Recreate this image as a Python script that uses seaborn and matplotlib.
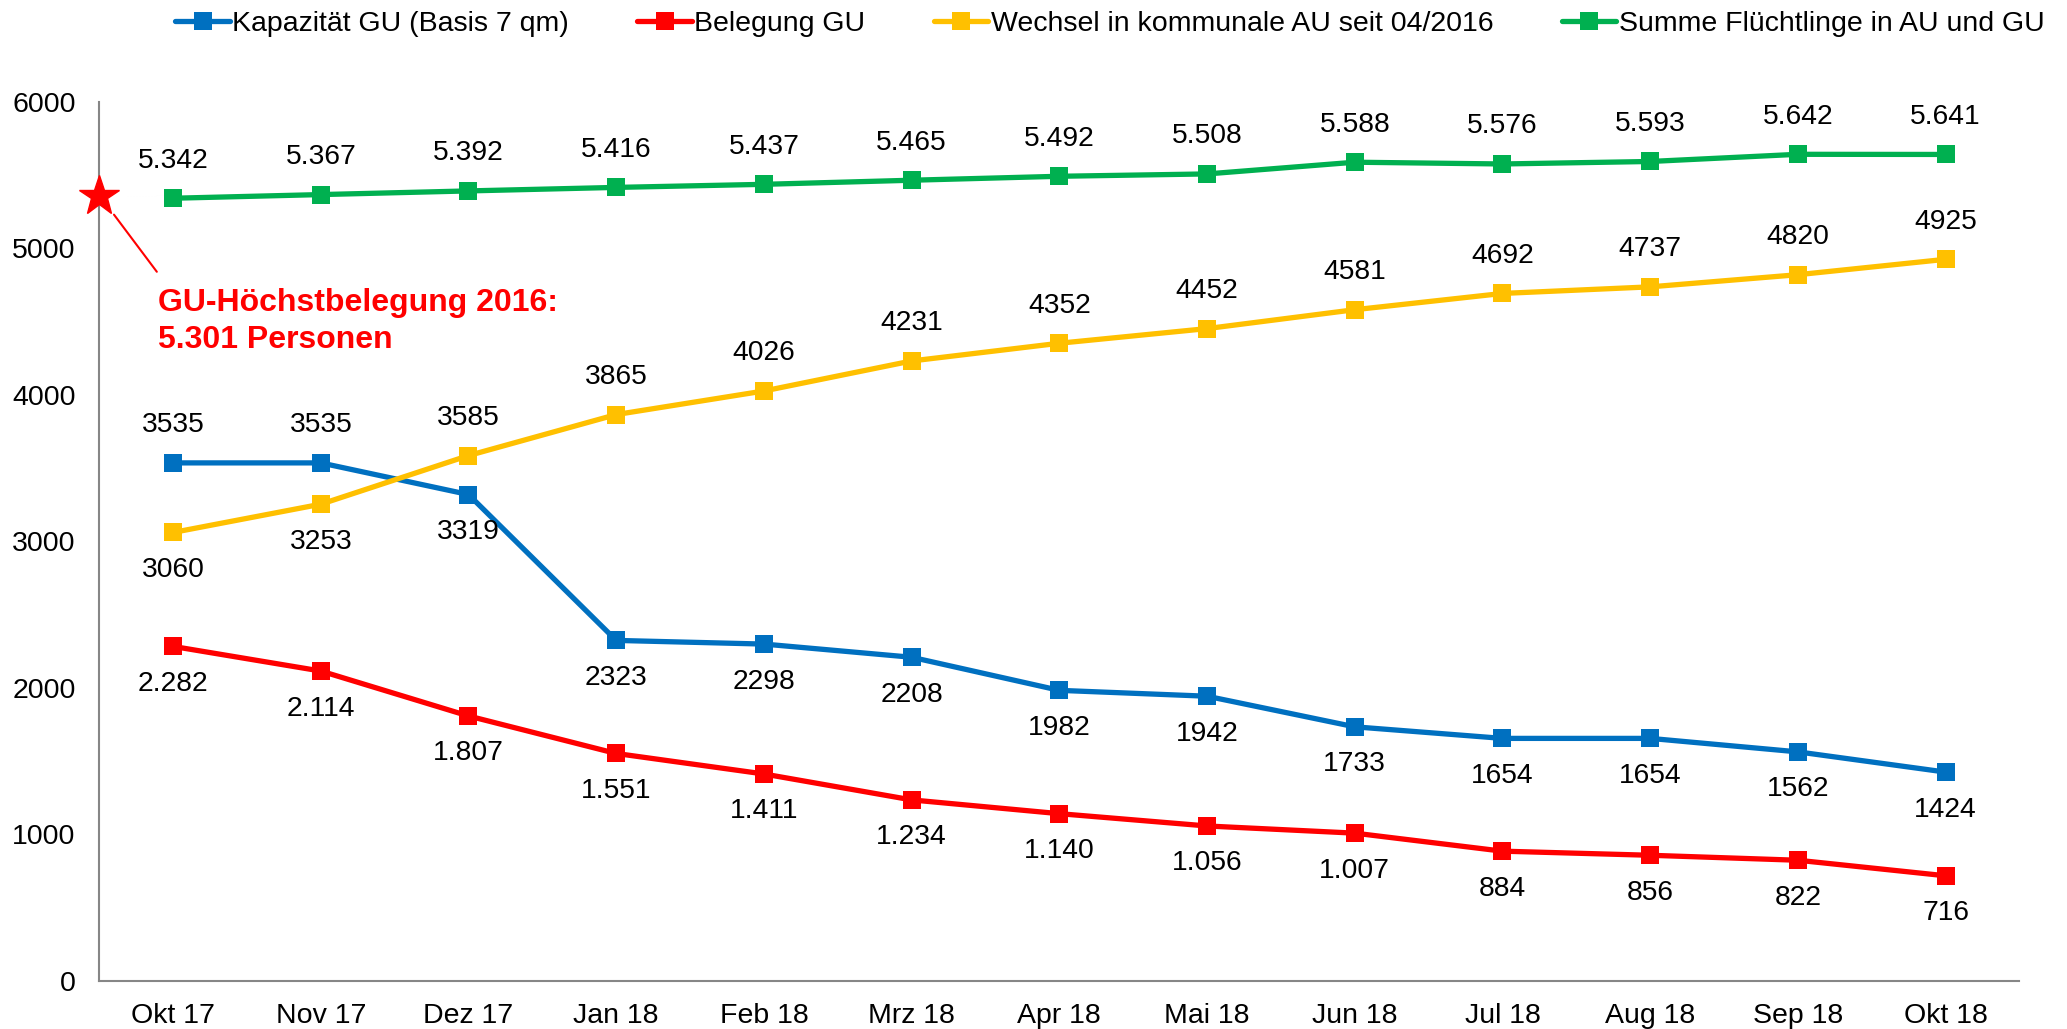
"""Flüchtlinge in GU / AU - line chart recreated with seaborn"""
import matplotlib
matplotlib.use('Agg')
import matplotlib.pyplot as plt
import pandas as pd
import seaborn as sns

# ~~~~~~~  Data  ~~~~~~~
months = ['Okt 17', 'Nov 17', 'Dez 17', 'Jan 18', 'Feb 18', 'Mrz 18', 'Apr 18',
          'Mai 18', 'Jun 18', 'Jul 18', 'Aug 18', 'Sep 18', 'Okt 18']
kapazitaet = [3535, 3535, 3319, 2323, 2298, 2208, 1982, 1942, 1733, 1654, 1654, 1562, 1424]
belegung = [2282, 2114, 1807, 1551, 1411, 1234, 1140, 1056, 1007, 884, 856, 822, 716]
wechsel = [3060, 3253, 3585, 3865, 4026, 4231, 4352, 4452, 4581, 4692, 4737, 4820, 4925]
summe = [5342, 5367, 5392, 5416, 5437, 5465, 5492, 5508, 5588, 5576, 5593, 5642, 5641]
series_names = ['Kapazität GU (Basis 7 qm)', 'Belegung GU',
                'Wechsel in kommunale AU seit 04/2016', 'Summe Flüchtlinge in AU und GU']
colors = ['#0070C0', '#FF0000', '#FFC000', '#00B050']
hoechst_value = 5360   # star on the y-axis (GU-Höchstbelegung 2016)

# label placement per point: +1 above, -1 below
kap_pos = [1, 1] + [-1] * 11
bel_pos = [-1] * 13
wec_pos = [-1, -1] + [1] * 11
sum_pos = [1] * 13


def fmt_dot(v):
    return f'{v:,}'.replace(',', '.')


def fmt_plain(v):
    return f'{v}'


# ~~~~~~~  Build table  ~~~~~~~
frames = []
for name, vals in zip(series_names, [kapazitaet, belegung, wechsel, summe]):
    frames.append(pd.DataFrame({'Monat': range(len(months)), 'Wert': vals, 'Serie': name}))
df = pd.concat(frames, ignore_index=True)

# ~~~~~~~  Plot  ~~~~~~~
sns.set_style('white')
plt.rcParams['font.family'] = ['Liberation Sans', 'DejaVu Sans']
plt.rcParams['text.color'] = 'black'

fig = plt.figure(figsize=(20.67, 10.29), dpi=100)
ax = fig.add_axes([0.048, 0.047, 0.929, 0.854])

sns.lineplot(data=df, x='Monat', y='Wert', hue='Serie', hue_order=series_names,
             palette=colors, style='Serie', markers=['s'] * 4, dashes=False,
             markersize=13, markeredgewidth=0, linewidth=3.8, ax=ax, legend=False)

# data labels
label_sets = [(kapazitaet, kap_pos, fmt_plain), (belegung, bel_pos, fmt_dot),
              (wechsel, wec_pos, fmt_plain), (summe, sum_pos, fmt_dot)]
for vals, pos, fmt in label_sets:
    for i, (v, p) in enumerate(zip(vals, pos)):
        ax.annotate(fmt(v), (i, v), xytext=(0, 27 * p), textcoords='offset points',
                    ha='center', va='center', fontsize=20.3, color='black')

# star + callout for the 2016 peak occupancy
ax.plot([-0.5], [hoechst_value], marker='*', markersize=30, color='#FF0000',
        clip_on=False, zorder=5)
ax.plot([-0.4, -0.11], [5230, 4840], color='#FF0000', linewidth=1.5)
ax.text(-0.1, 4730, 'GU-Höchstbelegung 2016:\n5.301 Personen', color='#FF0000',
        fontsize=23, fontweight='bold', ha='left', va='top', linespacing=1.3)

# axes styling (Excel look)
ax.set_xlim(-0.5, len(months) - 0.5)
ax.set_ylim(0, 6000)
ax.set_yticks(range(0, 6001, 1000))
ax.set_xticks(range(len(months)))
ax.set_xticklabels(months)
ax.set_xticks([i - 0.5 for i in range(len(months) + 1)], minor=True)
ax.tick_params(axis='x', which='major', length=0, pad=16, labelsize=20.5, labelcolor='black')
ax.tick_params(axis='x', which='minor', length=8, width=1.5, color='#868686', direction='out')
ax.tick_params(axis='y', length=8, width=1.5, color='#868686', labelsize=20.5, pad=9,
               labelcolor='black')
ax.set_xlabel('')
ax.set_ylabel('')
for side in ['top', 'right']:
    ax.spines[side].set_visible(False)
for side in ['left', 'bottom']:
    ax.spines[side].set_color('#868686')
    ax.spines[side].set_linewidth(1.5)

# legend at the top
handles = [plt.Line2D([], [], color=c, marker='s', markersize=13, markeredgewidth=0,
                      linewidth=3.8) for c in colors]
fig.legend(handles, series_names, loc='center', bbox_to_anchor=(0.537, 0.977), ncol=4,
           frameon=False, prop={'size': 20.5}, handlelength=1.9, handletextpad=0.1,
           columnspacing=2.4, labelcolor='black')

fig.savefig('out.png', dpi=100)
